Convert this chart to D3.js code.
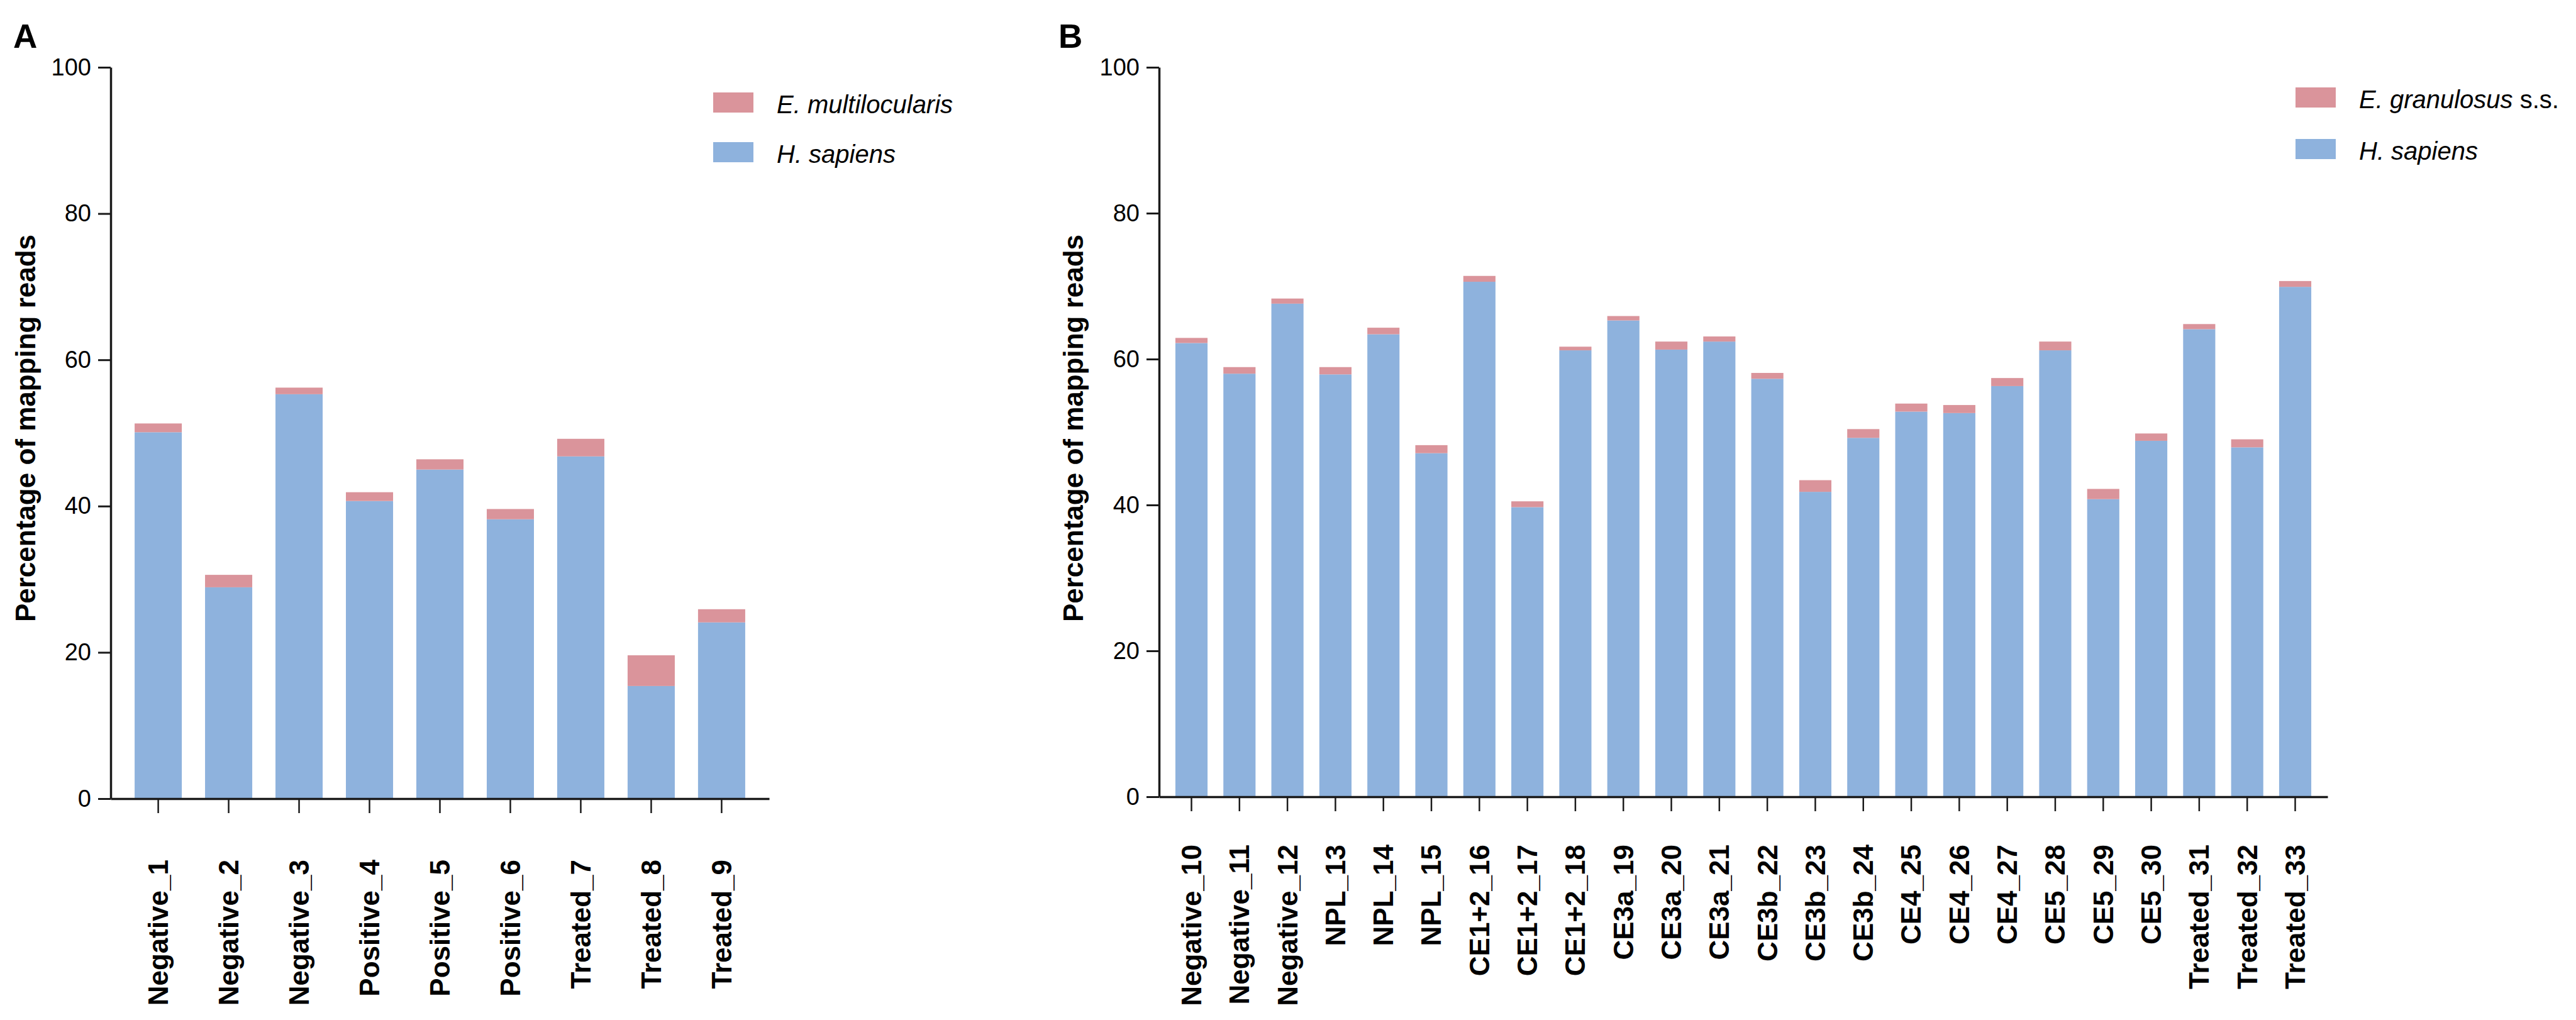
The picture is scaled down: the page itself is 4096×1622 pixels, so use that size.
<!DOCTYPE html>
<html>
<head>
<meta charset="utf-8">
<script src="https://cdn.jsdelivr.net/npm/d3@7"></script>
<style>
  body { margin: 0; background: #fff; }
  text { font-family: "Liberation Sans", Arial, Helvetica, sans-serif; }
</style>
</head>
<body>
<div id="chart"></div>
<script>
// panel A
const samplesA = ["Negative_1", "Negative_2", "Negative_3", "Positive_4", "Positive_5",
	"Positive_6", "Treated_7", "Treated_8", "Treated_9"];
const sapiensA = [50.1, 28.9, 55.3, 40.7, 45.0, 38.2, 46.8, 15.4, 24.1];
const multiA = [1.2, 1.7, 0.9, 1.2, 1.4, 1.4, 2.4, 4.2, 1.8];

// panel B
const samplesB = ["Negative_10", "Negative_11", "Negative_12", "NPL_13", "NPL_14", "NPL_15",
	"CE1+2_16", "CE1+2_17", "CE1+2_18", "CE3a_19", "CE3a_20", "CE3a_21", "CE3b_22", "CE3b_23",
	"CE3b_24", "CE4_25", "CE4_26", "CE4_27", "CE5_28", "CE5_29", "CE5_30",
	"Treated_31", "Treated_32", "Treated_33"];
const sapiensB = [62.2, 58.0, 67.6, 57.9, 63.4, 47.1, 70.6, 39.7, 61.2, 65.3, 61.3, 62.4,
	57.3, 41.8, 49.2, 52.8, 52.6, 56.3, 61.2, 40.8, 48.8, 64.1, 47.9, 69.9];
const granB = [0.7, 0.9, 0.7, 1.0, 0.9, 1.1, 0.8, 0.8, 0.5, 0.6, 1.1, 0.7,
	0.8, 1.6, 1.2, 1.1, 1.1, 1.1, 1.2, 1.4, 1.0, 0.7, 1.1, 0.8];

const yTicks = [0, 20, 40, 60, 80, 100];

const pink = "#da949b", blue = "#8eb2dd", ink = "#1a1a1a";

const svg = d3.select("#chart").append("svg")
	.attr("width", 4096)
	.attr("height", 1622);

function render(p) {
	const g = svg.append("g");

	const x = d3.scaleBand()
		.domain(p.samples)
		.range([p.left, p.right])
		.paddingInner(0.33)
		.paddingOuter(0.34);

	const y = d3.scaleLinear()
		.domain([0, 100])
		.range([p.bottom, 107]);

	// stack H. sapiens at the bottom, parasite on top
	const rows = p.samples.map((s, i) => ({ name: s, human: p.human[i], parasite: p.parasite[i] }));
	const stacked = d3.stack().keys(["human", "parasite"])(rows);
	const colors = { human: blue, parasite: pink };

	g.selectAll("g.layer")
		.data(stacked)
		.join("g")
		.attr("class", "layer")
		.attr("fill", d => colors[d.key])
		.selectAll("rect")
		.data(d => d)
		.join("rect")
		.attr("x", d => x(d.data.name))
		.attr("width", x.bandwidth())
		.attr("y", d => y(d[1]))
		.attr("height", d => y(d[0]) - y(d[1]));

	// y axis
	const yAxis = g.append("g")
		.attr("transform", `translate(${p.left},0)`)
		.call(d3.axisLeft(y).tickValues(yTicks).tickSize(20).tickPadding(11).tickSizeOuter(0));
	yAxis.select(".domain").attr("stroke", ink).attr("stroke-width", 3.5);
	yAxis.selectAll(".tick line").attr("stroke", ink).attr("stroke-width", 3);
	yAxis.selectAll(".tick text")
		.attr("font-size", "38px")
		.attr("fill", "#000")
		.style("font-family", "'Liberation Sans', Arial, sans-serif");

	// x axis
	const xAxis = g.append("g")
		.attr("transform", `translate(0,${p.bottom})`)
		.call(d3.axisBottom(x).tickSize(23).tickSizeOuter(0));
	xAxis.select(".domain").attr("stroke", ink).attr("stroke-width", 3.5);
	xAxis.selectAll(".tick line").attr("stroke", ink).attr("stroke-width", 2.5);
	xAxis.selectAll(".tick text")
		.attr("transform", "rotate(-90)")
		.attr("x", -p.labelGap)
		.attr("y", 0)
		.attr("dy", "0.35em")
		.style("text-anchor", "end")
		.style("font-family", "'Liberation Sans', Arial, sans-serif")
		.attr("font-size", "44px")
		.attr("font-weight", "bold")
		.attr("fill", "#000");

	// y title
	g.append("text")
		.attr("transform", `translate(${p.titleX},681) rotate(-90)`)
		.attr("text-anchor", "middle")
		.attr("font-size", "44px")
		.attr("font-weight", "bold")
		.text("Percentage of mapping reads");

	// panel letter
	g.append("text")
		.attr("x", p.letterX)
		.attr("y", 76)
		.attr("font-size", "53px")
		.attr("font-weight", "bold")
		.text(p.letter);

	// legend
	const leg = g.append("g");
	p.legend.forEach((item, i) => {
		leg.append("rect")
			.attr("x", p.legX)
			.attr("y", p.legY[i])
			.attr("width", 64)
			.attr("height", 32)
			.attr("fill", item.color);
		const t = leg.append("text")
			.attr("x", p.legX + 101)
			.attr("y", p.legY[i] + 33)
			.attr("font-size", "40px");
		t.append("tspan").attr("font-style", "italic").text(item.italic);
		if (item.plain) t.append("tspan").text(item.plain);
	});
}

render({
	letter: "A", letterX: 21,
	samples: samplesA, human: sapiensA, parasite: multiA,
	left: 176, right: 1223, bottom: 1270, labelGap: 97, titleX: 56,
	legX: 1134, legY: [147, 226],
	legend: [
		{ color: pink, italic: "E. multilocularis" },
		{ color: blue, italic: "H. sapiens" }
	]
});

render({
	letter: "B", letterX: 1683,
	samples: samplesB, human: sapiensB, parasite: granB,
	left: 1843, right: 3701, bottom: 1267, labelGap: 76, titleX: 1722,
	legX: 3650, legY: [139, 221],
	legend: [
		{ color: pink, italic: "E. granulosus", plain: " s.s." },
		{ color: blue, italic: "H. sapiens" }
	]
});
</script>
</body>
</html>
